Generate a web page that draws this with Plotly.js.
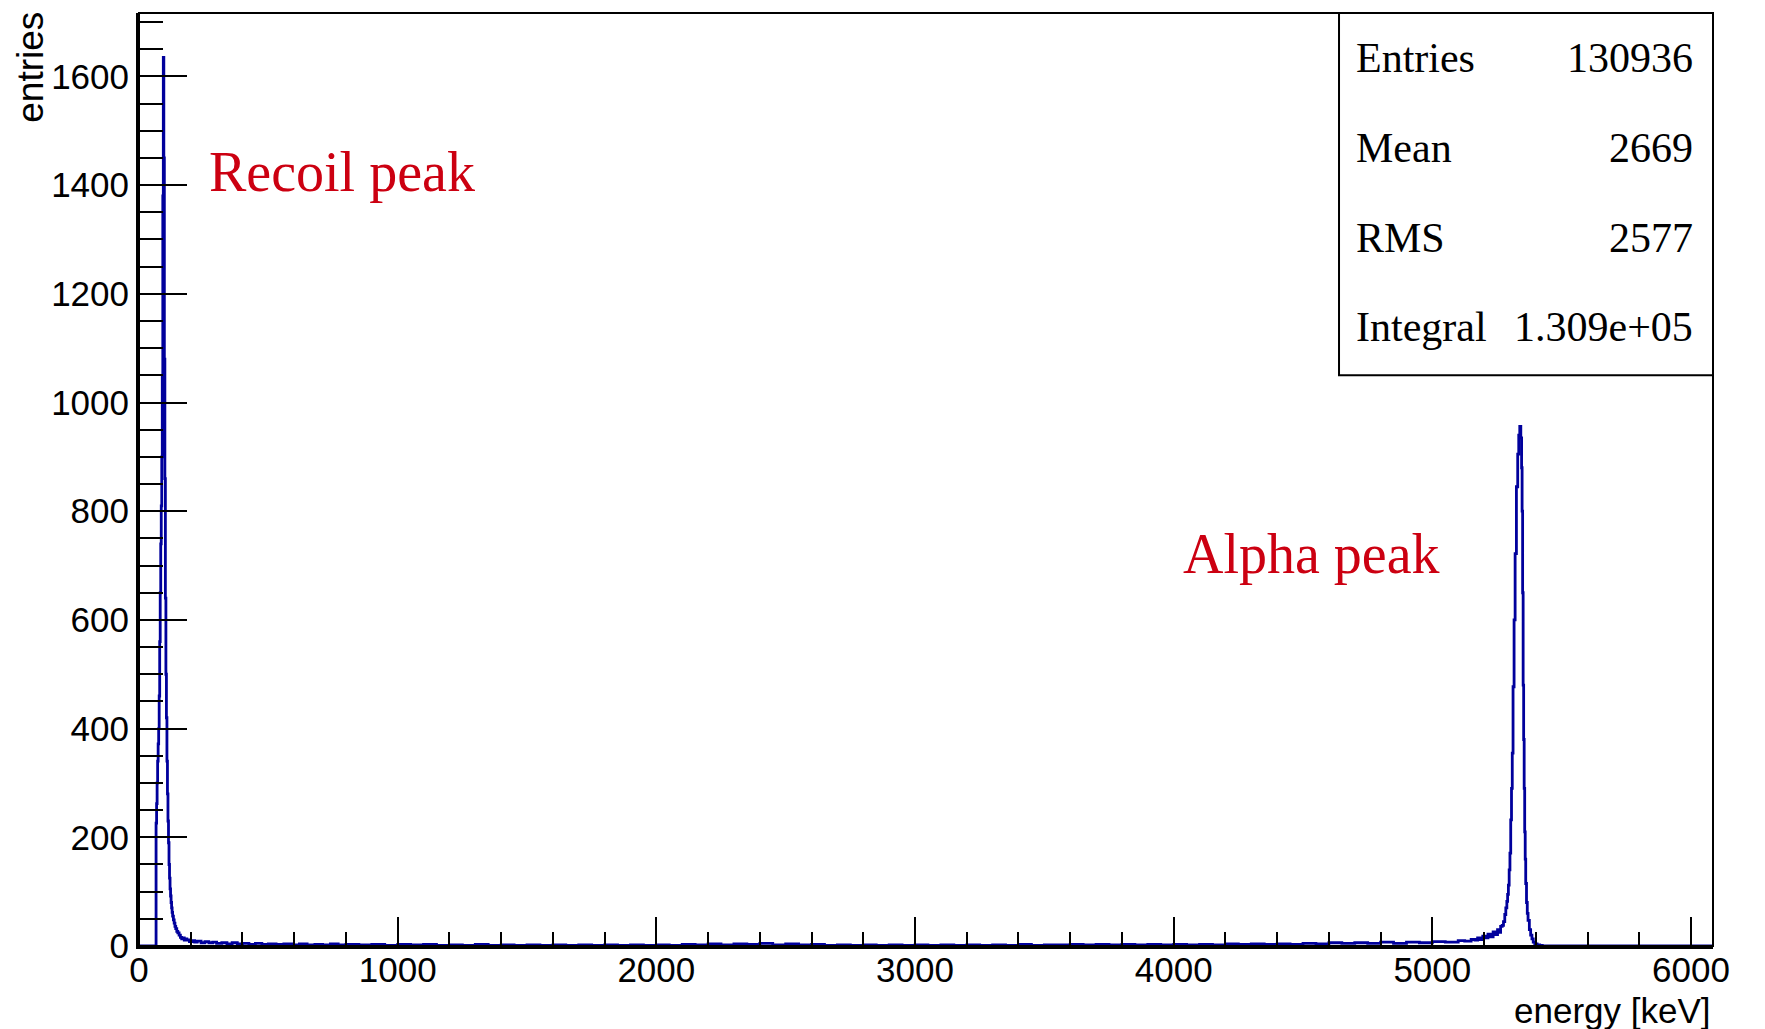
<!DOCTYPE html>
<html>
<head>
<meta charset="utf-8">
<script src="https://cdn.plot.ly/plotly-3.0.1.min.js"></script>
<style>html,body{margin:0;padding:0;background:#fff;}#chart{width:1765px;height:1029px;}</style>
</head>
<body>
<div id="chart"></div>
<script>
// ---- data (bin low edge in keV, entries) ----
var recoilEnergy = [0, 66, 68, 70, 72, 74, 76, 78, 80, 82, 84, 86, 88, 90, 92, 94, 96, 98, 100, 102, 104, 106, 108, 110, 112, 114, 116, 118, 120, 122, 124, 126, 128, 130, 133, 136, 139, 142, 146, 150, 155, 160, 165, 170, 175, 180];
var recoilCounts = [0, 226, 262, 300, 340, 372, 400, 460, 560, 650, 740, 810, 900, 1050, 1380, 1635, 1450, 1080, 860, 640, 500, 420, 340, 280, 230, 190, 150, 125, 105, 92, 80, 70, 62, 55, 48, 42, 36, 32, 27, 24, 20, 16, 13, 15, 11, 13];

var baseEnergy = [185, 195, 205, 215, 225, 240, 255, 270, 285, 300, 320, 340, 360, 380, 400, 425, 450, 475, 500, 530, 560, 590, 620, 650, 680, 710, 740, 770, 800, 850, 900, 950, 1000, 1050, 1100, 1150, 1200, 1250, 1300, 1350, 1400, 1450, 1500, 1550, 1600, 1650, 1700, 1750, 1800, 1850, 1900, 1950, 2000, 2050, 2100, 2150, 2200, 2250, 2300, 2350, 2400, 2450, 2500, 2550, 2600, 2650, 2700, 2750, 2800, 2850, 2900, 2950, 3000, 3050, 3100, 3150, 3200, 3250, 3300, 3350, 3400, 3450, 3500, 3550, 3600, 3650, 3700, 3750, 3800, 3850, 3900, 3950, 4000, 4050, 4100, 4150, 4200, 4250, 4300, 4350, 4400, 4450, 4500, 4550, 4600, 4650, 4700, 4750, 4800, 4850, 4900, 4950, 5000, 5050, 5100, 5125, 5150];
var baseCounts = [11, 8, 10, 7, 9, 6, 8, 6, 7, 5, 6, 4, 6, 4, 5, 3, 5, 3, 4, 3, 4, 2, 4, 2, 3, 2, 4, 2, 3, 2, 3, 1, 3, 2, 3, 1, 2, 1, 3, 1, 2, 1, 2, 1, 2, 1, 2, 1, 2, 1, 2, 1, 2, 1, 3, 2, 4, 2, 4, 3, 5, 2, 4, 2, 3, 1, 2, 1, 2, 1, 2, 1, 2, 1, 2, 1, 2, 1, 2, 1, 3, 1, 2, 2, 3, 2, 3, 2, 3, 2, 3, 2, 3, 2, 3, 2, 4, 3, 4, 3, 4, 3, 5, 4, 6, 5, 6, 5, 7, 5, 7, 6, 8, 7, 10, 9, 12];

var alphaEnergy = [5165, 5175, 5185, 5195, 5205, 5215, 5225, 5235, 5245, 5252, 5258, 5264, 5270, 5275, 5280, 5284, 5288, 5291, 5294, 5297, 5300, 5303, 5306, 5309, 5312, 5316, 5320, 5325, 5330, 5334, 5338, 5342, 5345, 5347, 5349, 5351, 5353, 5355, 5357, 5359, 5361, 5364, 5367, 5370, 5375, 5380, 5385, 5390, 5396, 5405, 5415, 5425, 6085];
var alphaCounts = [11, 15, 12, 18, 15, 22, 17, 26, 21, 30, 25, 36, 38, 45, 58, 70, 82, 95, 112, 140, 171, 232, 290, 355, 477, 600, 722, 845, 905, 940, 956, 935, 880, 800, 650, 480, 380, 290, 210, 160, 115, 80, 60, 47, 30, 20, 13, 7, 4, 2, 1, 0, 0];

var xTickVals = [0, 1000, 2000, 3000, 4000, 5000, 6000];
var xTickText = ["0", "1000", "2000", "3000", "4000", "5000", "6000"];
var yTickVals = [0, 200, 400, 600, 800, 1000, 1200, 1400, 1600];
var yTickText = ["0", "200", "400", "600", "800", "1000", "1200", "1400", "1600"];

var statLabels = ["Entries", "Mean", "RMS", "Integral"];
var statValues = ["130936", "2669", "2577", "1.309e+05"];

var peakLabels = ["Recoil peak", "Alpha peak"];
var peakLabelX = [262, 4030];
var peakLabelY = [1424, 721];

// ---- build ----
var energy = recoilEnergy.concat(baseEnergy, alphaEnergy);
var counts = recoilCounts.concat(baseCounts, alphaCounts);

var trace = {
  x: energy, y: counts, type: 'scatter', mode: 'lines',
  line: {color: '#00009c', width: 2.8, shape: 'hv'},
  hoverinfo: 'skip', showlegend: false
};

var sans = 'Liberation Sans, Arial, Helvetica, sans-serif';
var serif = 'Liberation Serif, Times New Roman, serif';

var annotations = [];
var statY = [0.9518, 0.8553, 0.7588, 0.6634];
for (var i = 0; i < statLabels.length; i++) {
  annotations.push({xref: 'paper', yref: 'paper', x: 0.7722, y: statY[i], xanchor: 'left', yanchor: 'middle',
    text: statLabels[i], showarrow: false, font: {family: serif, size: 42, color: '#000'}});
  annotations.push({xref: 'paper', yref: 'paper', x: 0.9887, y: statY[i], xanchor: 'right', yanchor: 'middle',
    text: statValues[i], showarrow: false, font: {family: serif, size: 42, color: '#000'}});
}
for (var j = 0; j < peakLabels.length; j++) {
  annotations.push({xref: 'x', yref: 'y', x: peakLabelX[j], y: peakLabelY[j], xanchor: 'left', yanchor: 'middle',
    text: peakLabels[j], showarrow: false, font: {family: serif, size: 56, color: '#cc0011'}});
}
annotations.push({xref: 'paper', yref: 'paper', x: 1.0, y: -0.0686, xanchor: 'right', yanchor: 'middle',
  text: 'energy [keV]', showarrow: false, font: {family: sans, size: 35, color: '#000'}});
annotations.push({xref: 'paper', yref: 'paper', x: -0.0686, y: 1.003, xanchor: 'center', yanchor: 'top',
  text: 'entries', textangle: -90, showarrow: false, font: {family: sans, size: 37, color: '#000'}});

var layout = {
  width: 1765, height: 1029,
  margin: {l: 139, r: 52, t: 13, b: 83, pad: 0},
  paper_bgcolor: '#fff', plot_bgcolor: '#fff',
  showlegend: false,
  xaxis: {
    range: [0, 6085], showgrid: false, zeroline: false,
    showline: true, linecolor: '#000', linewidth: 3,
    ticks: 'inside', ticklen: 29, tickwidth: 2, tickcolor: '#000',
    tickvals: xTickVals, ticktext: xTickText,
    minor: {dtick: 200, tick0: 0, ticks: 'inside', ticklen: 14, tickwidth: 2, tickcolor: '#000', showgrid: false},
    tickfont: {family: sans, size: 35, color: '#000'},
    ticklabelstandoff: -9
  },
  yaxis: {
    range: [0, 1716.7], showgrid: false, zeroline: false,
    showline: true, linecolor: '#000', linewidth: 3,
    ticks: 'inside', ticklen: 48, tickwidth: 2, tickcolor: '#000',
    tickvals: yTickVals, ticktext: yTickText,
    minor: {dtick: 50, tick0: 0, ticks: 'inside', ticklen: 24, tickwidth: 2, tickcolor: '#000', showgrid: false},
    tickfont: {family: sans, size: 35, color: '#000'},
    ticklabelstandoff: 0
  },
  shapes: [
    {type: 'rect', xref: 'paper', yref: 'paper', x0: 0, x1: 1, y0: 0, y1: 1,
     line: {color: '#000', width: 2}, fillcolor: 'rgba(0,0,0,0)', layer: 'above'},
    {type: 'rect', xref: 'paper', yref: 'paper', x0: 0.7624, x1: 1, y0: 0.6117, y1: 1,
     line: {color: '#000', width: 2}, fillcolor: '#fff', layer: 'above'}
  ],
  annotations: annotations
};

Plotly.newPlot('chart', [trace], layout, {staticPlot: true, displayModeBar: false});
</script>
</body>
</html>
